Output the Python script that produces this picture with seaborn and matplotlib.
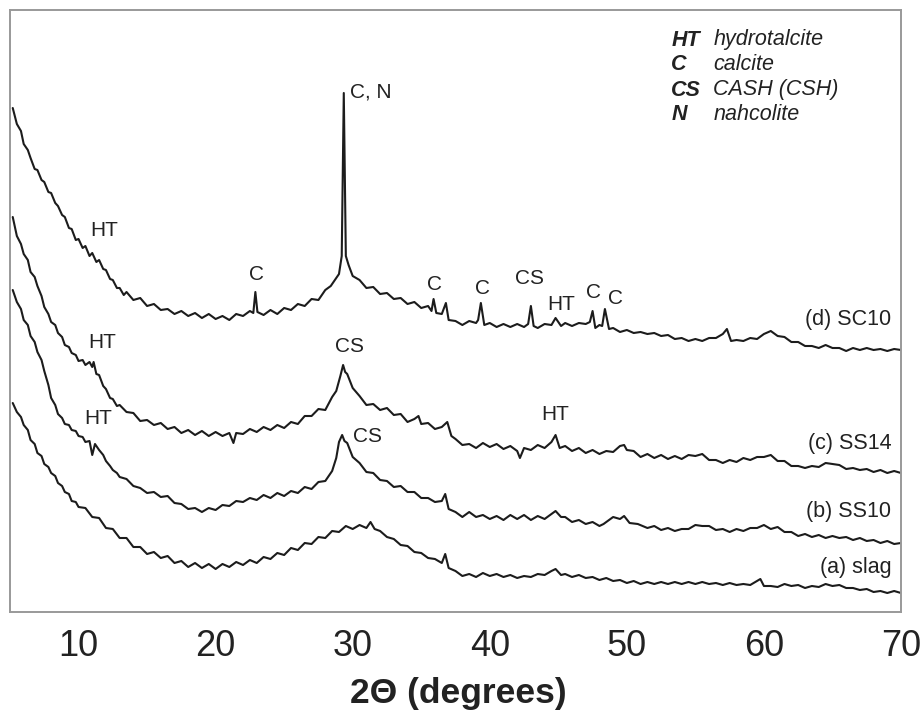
import pandas as pd
import seaborn as sns
import matplotlib.pyplot as plt
from matplotlib import font_manager

# XRD patterns; intensity = height above the x axis (arbitrary units)
d_x = [5.2, 5.5, 5.8, 6.0, 6.3, 6.5, 6.8, 7.0, 7.3, 7.5, 7.8, 8.0, 8.3, 8.5, 8.8, 9.0, 9.3, 9.5, 9.8, 10.0,
       10.3, 10.5, 10.8, 11.0, 11.3, 11.5, 11.8, 12.0, 12.3, 12.5, 12.8, 13.0, 13.3, 13.5, 14.0, 14.5, 15.0, 15.5,
       16.0, 16.5, 17.0, 17.5, 18.0, 18.5, 19.0, 19.5, 20.0, 20.5, 21.0, 21.5, 22.0, 22.5, 22.75, 22.9, 23.05,
       23.5, 24.0, 24.5, 25.0, 25.5, 26.0, 26.5, 27.0, 27.5, 28.0, 28.4, 28.7, 29.0, 29.2, 29.35, 29.5, 29.7,
       30.0, 30.5, 31.0, 31.5, 32.0, 32.5, 33.0, 33.5, 34.0, 34.5, 35.0, 35.5, 35.75, 35.9, 36.1, 36.5, 36.8,
       37.0, 37.5, 38.0, 38.5, 39.0, 39.15, 39.35, 39.6, 40.0, 40.5, 41.0, 41.5, 42.0, 42.5, 42.8, 43.0, 43.2,
       43.5, 44.0, 44.5, 44.8, 45.2, 45.5, 46.0, 46.5, 47.0, 47.3, 47.5, 47.7, 48.0, 48.2, 48.4, 48.7, 49.0,
       49.5, 50.0, 50.5, 51.0, 51.5, 52.0, 52.5, 53.0, 53.5, 54.0, 54.5, 55.0, 55.5, 56.0, 56.5, 57.0, 57.3,
       57.6, 58.0, 58.5, 59.0, 59.5, 60.0, 60.5, 61.0, 61.5, 62.0, 62.5, 63.0, 63.5, 64.0, 64.5, 65.0, 65.5,
       66.0, 66.5, 67.0, 67.5, 68.0, 68.5, 69.0, 69.5, 70.0]
d_y = [504, 488, 481, 468, 462, 454, 443, 442, 432, 430, 420, 419, 409, 406, 397, 395, 384, 383, 372, 373,
       364, 366, 356, 359, 350, 352, 343, 342, 333, 332, 324, 324, 317, 320, 312, 314, 306, 308,
       302, 303, 298, 301, 296, 299, 294, 298, 293, 296, 292, 298, 296, 301, 299, 320, 300,
       297, 302, 298, 304, 302, 308, 306, 313, 312, 322, 326, 332, 338, 356, 519, 356, 347,
       336, 332, 324, 325, 318, 319, 313, 314, 308, 310, 304, 306, 301, 313, 299, 298, 309,
       292, 291, 287, 291, 289, 292, 309, 287, 289, 285, 288, 285, 288, 285, 288, 306, 286,
       284, 288, 287, 294, 286, 289, 286, 289, 288, 290, 301, 284, 287, 286, 303, 283, 284,
       280, 282, 279, 280, 278, 279, 276, 277, 273, 274, 271, 273, 271, 274, 274, 278, 283,
       271, 272, 271, 274, 273, 278, 281, 276, 275, 270, 270, 266, 266, 264, 267, 264, 264,
       261, 264, 262, 264, 262, 263, 261, 263, 262]

c_x = [5.2, 5.5, 5.8, 6.0, 6.3, 6.5, 6.8, 7.0, 7.3, 7.5, 7.8, 8.0, 8.3, 8.5, 8.8, 9.0, 9.3, 9.5, 9.8, 10.0,
       10.3, 10.5, 10.8, 11.0, 11.1, 11.3, 11.5, 11.8, 12.0, 12.3, 12.5, 12.8, 13.0, 13.5, 14.0, 14.5, 15.0,
       15.5, 16.0, 16.5, 17.0, 17.5, 18.0, 18.5, 19.0, 19.5, 20.0, 20.5, 21.0, 21.3, 21.5, 22.0, 22.5, 23.0,
       23.5, 24.0, 24.5, 25.0, 25.5, 26.0, 26.5, 27.0, 27.5, 28.0, 28.5, 28.8, 29.1, 29.3, 29.45, 29.6, 30.0,
       30.5, 31.0, 31.5, 32.0, 32.5, 33.0, 33.5, 34.0, 34.5, 34.8, 35.0, 35.5, 36.0, 36.5, 36.9, 37.2, 37.5,
       38.0, 38.5, 39.0, 39.5, 40.0, 40.5, 41.0, 41.5, 42.0, 42.2, 42.5, 43.0, 43.5, 44.0, 44.5, 44.8, 45.1,
       45.5, 46.0, 46.5, 47.0, 47.5, 48.0, 48.5, 49.0, 49.5, 49.8, 50.0, 50.5, 51.0, 51.5, 52.0, 52.5, 53.0,
       53.5, 54.0, 54.5, 55.0, 55.5, 56.0, 56.5, 57.0, 57.5, 58.0, 58.5, 59.0, 59.5, 60.0, 60.5, 61.0, 61.5,
       62.0, 62.5, 63.0, 63.5, 64.0, 64.5, 65.0, 65.5, 66.0, 66.5, 67.0, 67.5, 68.0, 68.5, 69.0, 69.5, 70.0]
c_y = [395, 376, 368, 358, 352, 340, 335, 326, 316, 305, 298, 290, 287, 279, 275, 267, 265, 259, 257, 251,
       252, 247, 250, 245, 250, 238, 237, 226, 223, 214, 213, 206, 207, 200, 199, 191, 192,
       187, 189, 183, 185, 179, 182, 177, 181, 176, 180, 176, 179, 169, 179, 178, 183, 180,
       185, 182, 187, 184, 190, 188, 196, 196, 203, 202, 215, 221, 236, 247, 240, 238, 224,
       216, 207, 208, 202, 204, 197, 198, 190, 193, 196, 188, 189, 183, 185, 190, 176, 173,
       167, 168, 164, 169, 165, 168, 163, 166, 161, 154, 164, 162, 167, 164, 170, 177, 164,
       166, 161, 164, 159, 162, 158, 161, 160, 166, 167, 162, 161, 155, 158, 154, 157, 153,
       156, 153, 157, 156, 158, 152, 152, 149, 152, 150, 154, 152, 155, 155, 157, 151, 151,
       146, 146, 144, 146, 145, 149, 148, 147, 143, 144, 142, 143, 140, 142, 139, 141, 139]

b_x = [5.2, 5.5, 5.8, 6.0, 6.3, 6.5, 6.8, 7.0, 7.3, 7.5, 7.8, 8.0, 8.3, 8.5, 8.8, 9.0, 9.3, 9.5, 9.8, 10.0,
       10.3, 10.5, 10.8, 11.0, 11.2, 11.5, 11.8, 12.0, 12.3, 12.5, 12.8, 13.0, 13.5, 14.0, 14.5, 15.0, 15.5,
       16.0, 16.5, 17.0, 17.5, 18.0, 18.5, 19.0, 19.5, 20.0, 20.5, 21.0, 21.5, 22.0, 22.5, 23.0, 23.5, 24.0,
       24.5, 25.0, 25.5, 26.0, 26.5, 27.0, 27.5, 28.0, 28.5, 28.8, 29.0, 29.23, 29.4, 29.6, 30.0, 30.5, 31.0,
       31.5, 32.0, 32.5, 33.0, 33.5, 34.0, 34.5, 35.0, 35.5, 36.0, 36.5, 36.75, 37.0, 37.5, 38.0, 38.5, 39.0,
       39.5, 40.0, 40.5, 41.0, 41.5, 42.0, 42.5, 43.0, 43.5, 44.0, 44.5, 44.8, 45.2, 45.5, 46.0, 46.5, 47.0,
       47.5, 48.0, 48.3, 48.7, 49.0, 49.5, 49.8, 50.2, 50.8, 51.5, 52.0, 52.5, 53.0, 53.5, 54.0, 54.5, 55.0,
       55.5, 56.0, 56.5, 57.0, 57.5, 58.0, 58.5, 59.0, 59.5, 60.0, 60.5, 61.0, 61.5, 62.0, 62.5, 63.0, 63.5,
       64.0, 64.5, 65.0, 65.5, 66.0, 66.5, 67.0, 67.5, 68.0, 68.5, 69.0, 69.5, 70.0]
b_y = [322, 310, 303, 292, 287, 276, 270, 260, 252, 241, 227, 214, 207, 198, 194, 188, 187, 182, 181, 176,
       175, 170, 171, 157, 168, 162, 157, 151, 146, 142, 139, 135, 133, 126, 124, 119, 120,
       115, 116, 109, 108, 103, 104, 100, 104, 102, 107, 106, 111, 110, 114, 112, 117, 114,
       119, 116, 121, 119, 125, 123, 130, 131, 141, 154, 170, 177, 171, 169, 155, 149, 140,
       139, 132, 131, 125, 126, 120, 120, 114, 114, 110, 111, 118, 103, 100, 95, 100, 95,
       97, 93, 96, 92, 97, 93, 97, 92, 96, 93, 98, 101, 95, 95, 90, 92, 88,
       90, 86, 88, 92, 95, 93, 96, 89, 88, 84, 86, 82, 84, 81, 83, 83, 87,
       86, 86, 82, 83, 80, 83, 81, 84, 84, 87, 83, 85, 80, 80, 76, 78, 75,
       77, 74, 76, 74, 75, 72, 74, 71, 72, 69, 71, 68, 69]

a_x = [5.2, 5.5, 5.8, 6.0, 6.3, 6.5, 6.8, 7.0, 7.3, 7.5, 7.8, 8.0, 8.3, 8.5, 8.8, 9.0, 9.3, 9.5, 9.8, 10.0,
       10.5, 11.0, 11.5, 12.0, 12.5, 13.0, 13.5, 14.0, 14.5, 15.0, 15.5, 16.0, 16.5, 17.0, 17.5, 18.0, 18.5,
       19.0, 19.5, 20.0, 20.5, 21.0, 21.5, 22.0, 22.5, 23.0, 23.5, 24.0, 24.5, 25.0, 25.5, 26.0, 26.5, 27.0,
       27.5, 28.0, 28.5, 29.0, 29.5, 30.0, 30.5, 31.0, 31.3, 31.6, 32.0, 32.5, 33.0, 33.5, 34.0, 34.5, 35.0,
       35.5, 36.0, 36.5, 36.75, 37.0, 37.5, 38.0, 38.5, 39.0, 39.5, 40.0, 40.5, 41.0, 41.5, 42.0, 42.5, 43.0,
       43.5, 44.0, 44.5, 44.8, 45.2, 45.5, 46.0, 46.5, 47.0, 47.5, 48.0, 48.5, 49.0, 49.5, 50.0, 50.5, 51.0,
       51.5, 52.0, 52.5, 53.0, 53.5, 54.0, 54.5, 55.0, 55.5, 56.0, 56.5, 57.0, 57.5, 58.0, 58.5, 59.0, 59.5,
       59.74, 60.0, 60.5, 61.0, 61.5, 62.0, 62.5, 63.0, 63.5, 64.0, 64.5, 65.0, 65.5, 66.0, 66.5, 67.0, 67.5,
       68.0, 68.5, 69.0, 69.5, 70.0]
a_y = [209, 200, 195, 187, 182, 172, 168, 159, 156, 148, 145, 139, 136, 129, 126, 120, 118, 111, 110, 105,
       104, 95, 94, 84, 83, 74, 74, 65, 65, 58, 60, 54, 56, 49, 51, 45, 49,
       44, 48, 43, 48, 45, 50, 47, 52, 49, 55, 53, 59, 57, 64, 62, 69, 68,
       75, 74, 81, 80, 86, 83, 87, 84, 90, 83, 81, 75, 73, 67, 66, 60, 59,
       54, 53, 49, 58, 44, 41, 36, 38, 35, 39, 36, 38, 35, 37, 34, 36, 35,
       38, 37, 41, 43, 37, 38, 35, 37, 34, 35, 32, 34, 31, 32, 29, 31, 28,
       30, 28, 30, 28, 30, 28, 30, 28, 30, 28, 29, 27, 29, 27, 28, 27, 31,
       33, 26, 26, 25, 28, 26, 27, 24, 26, 25, 28, 26, 27, 24, 24, 22, 23,
       20, 21, 19, 21, 19]

# sample names, placed at the right end of each trace
sample_names = ['(d) SC10', '(c) SS14', '(b) SS10', '(a) slag']
sample_label_y = [292, 168, 100, 44]

# phase labels over the peaks: text, 2theta, height
peak_text = ['C, N', 'HT', 'C', 'C', 'C', 'CS', 'HT', 'C', 'C', 'HT', 'CS', 'HT', 'HT', 'CS']
peak_x = [29.8, 11.9, 22.95, 36.0, 39.45, 42.9, 45.2, 47.55, 49.2, 11.7, 29.8, 44.8, 11.4, 31.1]
peak_y = [520, 382, 337, 327, 324, 334, 307, 320, 314, 270, 266, 197, 194, 176]

key_abbr = ['HT', 'C', 'CS', 'N']
key_name = ['hydrotalcite', 'calcite', 'CASH (CSH)', 'nahcolite']
key_y = [572, 547, 522, 497]

sns.set_style('white')
plt.rcParams['font.family'] = ['Liberation Sans', 'DejaVu Sans']

# the tick numbers in the original are a narrow sans
installed = {f.name for f in font_manager.fontManager.ttflist}
tick_family = 'Liberation Sans Narrow' if 'Liberation Sans Narrow' in installed else 'Liberation Sans'
tick_size = 28 if tick_family == 'Liberation Sans Narrow' else 26

fig = plt.figure(figsize=(9.24, 7.13), dpi=100)
ax = fig.add_axes([10 / 924, 1 - 612 / 713, 891 / 924, 602 / 713])

for xs, ys in [(a_x, a_y), (b_x, b_y), (c_x, c_y), (d_x, d_y)]:
    df = pd.DataFrame({'two_theta': xs, 'intensity': ys})
    sns.lineplot(data=df, x='two_theta', y='intensity', ax=ax, color='#1c1c1c',
                 lw=1.5, estimator=None, sort=False)

for name, y in zip(sample_names, sample_label_y):
    ax.text(69.3, y, name, ha='right', va='center', fontsize=15.5, color='#222222')

for t, x, y in zip(peak_text, peak_x, peak_y):
    ha = 'left' if t == 'C, N' else 'center'
    ax.text(x, y, t, ha=ha, va='center', fontsize=15, color='#222222')

for abbr, name, y in zip(key_abbr, key_name, key_y):
    ax.text(53.25, y, abbr, ha='left', va='center', fontsize=15.5, fontweight='bold',
            fontstyle='italic', color='#222222')
    ax.text(56.3, y, name, ha='left', va='center', fontsize=15.5, fontstyle='italic', color='#222222')

ax.set_xlim(5, 70)
ax.set_ylim(0, 602)
ax.set_xticks(range(10, 71, 10))
ax.set_xticks(range(15, 70, 10), minor=True)
ax.set_yticks([])
ax.tick_params(axis='x', which='major', direction='in', length=19.5, width=1.1, color='#8a8a8a',
               labelsize=tick_size, pad=12, labelcolor='#222222')
ax.tick_params(axis='x', which='minor', direction='in', length=10, width=1.1, color='#8a8a8a')
for lab in ax.get_xticklabels():
    lab.set_family(tick_family)
for s in ax.spines.values():
    s.set_color('#999999')
    s.set_linewidth(1.4)
ax.set_xlabel('')
ax.set_ylabel('')

fig.text(458 / 924, 1 - 693 / 713, '2Θ (degrees)', ha='center', va='center', fontsize=25.5,
         fontweight='bold', color='#222222')

fig.savefig('out.png', dpi=100, facecolor='white')
